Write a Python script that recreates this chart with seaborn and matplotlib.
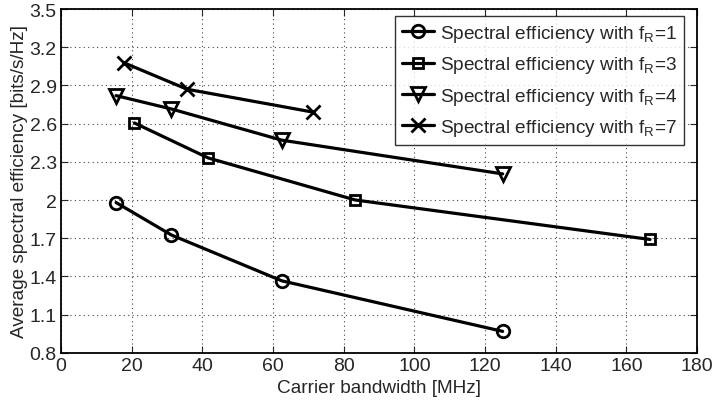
import numpy as np
import pandas as pd
import matplotlib
matplotlib.use("Agg")
import matplotlib.pyplot as plt
import seaborn as sns

# values
bw_fr1 = [15.6, 31.25, 62.5, 125.0]
se_fr1 = [1.98, 1.725, 1.365, 0.968]
bw_fr3 = [20.8, 41.7, 83.3, 166.7]
se_fr3 = [2.605, 2.33, 2.0, 1.69]
bw_fr4 = [15.6, 31.25, 62.5, 125.0]
se_fr4 = [2.82, 2.715, 2.47, 2.205]
bw_fr7 = [17.9, 35.7, 71.4]
se_fr7 = [3.077, 2.87, 2.69]

x_ticks = list(range(0, 181, 20))
y_ticks = [0.8, 1.1, 1.4, 1.7, 2.0, 2.3, 2.6, 2.9, 3.2, 3.5]
y_tick_labels = ["0.8", "1.1", "1.4", "1.7", "2", "2.3", "2.6", "2.9", "3.2", "3.5"]

sns.set_style("ticks")
plt.rcParams["font.family"] = ["Liberation Sans", "DejaVu Sans"]
plt.rcParams["mathtext.fontset"] = "custom"
plt.rcParams["mathtext.rm"] = "Liberation Sans"

fig = plt.figure(figsize=(7.14, 4.02), dpi=100)
ax = fig.add_axes([0.0854, 0.120, 0.8908, 0.855])

series = [
    (bw_fr1, se_fr1, "o", 9, "1"),
    (bw_fr3, se_fr3, "s", 6.5, "3"),
    (bw_fr4, se_fr4, "v", 10, "4"),
    (bw_fr7, se_fr7, "x", 10, "7"),
]
for bw, se, mk, ms, fr in series:
    df = pd.DataFrame({"bw": bw, "se": se})
    sns.lineplot(data=df, x="bw", y="se", ax=ax, color="black", lw=2.3,
                 marker=mk, markersize=ms, markerfacecolor="none",
                 markeredgecolor="black", markeredgewidth=2.0, sort=False,
                 label=r"Spectral efficiency with f$_\mathregular{R}$=" + fr)

ax.set_xlim(0, 180)
ax.set_ylim(0.8, 3.5)
ax.set_xticks(x_ticks)
ax.set_yticks(y_ticks)
ax.set_yticklabels(y_tick_labels)
ax.grid(True, linestyle=(0, (1, 3)), color="#444444", linewidth=0.8)
ax.tick_params(direction="in", top=True, right=True, labelsize=14, length=5,
               width=0.8, pad=3)
for sp in ax.spines.values():
    sp.set_linewidth(1.3)
    sp.set_color("black")

ax.set_xlabel("Carrier bandwidth [MHz]", fontsize=13.7, labelpad=4)
ax.set_ylabel("Average spectral efficiency [bits/s/Hz]", fontsize=13.7, labelpad=1)

leg = ax.legend(loc="upper right", bbox_to_anchor=(0.9796, 0.9796),
                fontsize=13.7, frameon=True, fancybox=False,
                handlelength=1.7, handletextpad=0.3, borderpad=0.35,
                labelspacing=0.55, borderaxespad=0)
leg.get_frame().set_edgecolor("black")
leg.get_frame().set_linewidth(1.0)

fig.savefig("out.png", dpi=100)
